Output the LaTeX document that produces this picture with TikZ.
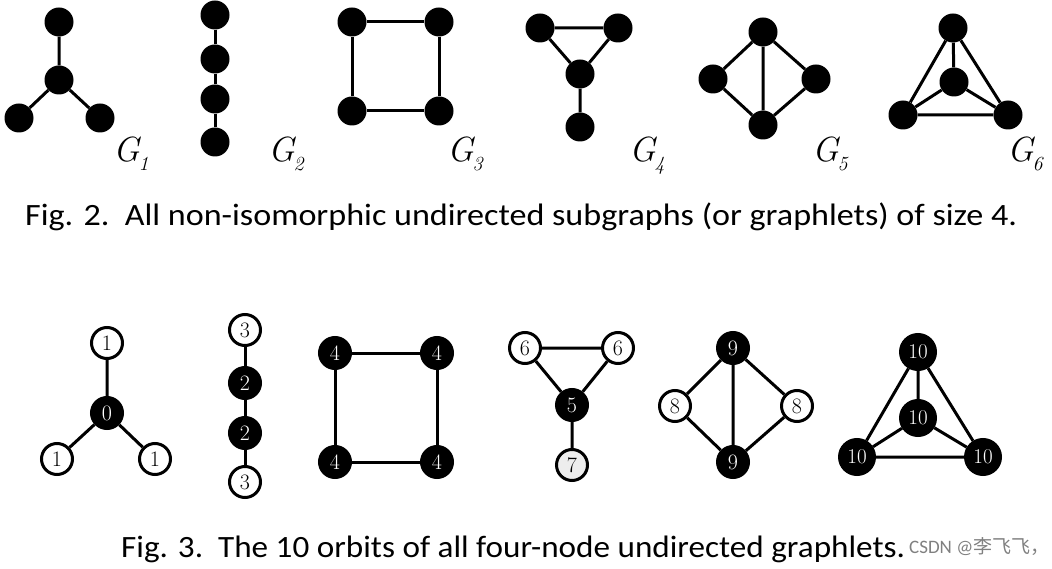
\documentclass[tikz,border=0pt]{standalone}
\usepackage{fontspec}
\newfontfamily\capfont[FakeStretch=1.1]{Carlito}
\newfontfamily\capfontb[FakeStretch=1.07]{Carlito}
\newfontfamily\wmfont{Carlito}
\newfontfamily\cjk{Noto Sans CJK SC}
\newcommand{\glab}[1]{{\itshape G\kern-1pt\raisebox{-9pt}{\fontsize{20}{20}\selectfont #1}}}
\begin{document}
\begin{tikzpicture}[x=1pt,y=-1pt,
  dot/.style={circle,fill=black,minimum size=29pt,inner sep=0pt},
  edge/.style={line width=3pt},
  orbw/.style={circle,draw=black,line width=3pt,fill=white,minimum size=31pt,inner sep=0pt,font=\fontsize{22}{22}\selectfont},
  orbb/.style={circle,draw=black,line width=3pt,fill=black,text=white,minimum size=31pt,inner sep=0pt,font=\fontsize{22}{22}\selectfont},
  orbbig/.style={orbb,minimum size=35pt,font=\fontsize{21}{21}\selectfont},
  glabel/.style={font=\fontsize{35}{36}\selectfont,anchor=base west,inner sep=0pt},
  caption/.style={font=\capfont\fontsize{31}{34}\selectfont,anchor=base west,inner sep=0pt}]
\useasboundingbox (0,0) rectangle (1052,569);
% ---- Fig 2 ----
% G1
\node[dot] (a1) at (59,22) {};
\node[dot] (a2) at (59,80) {};
\node[dot] (a3) at (19,118) {};
\node[dot] (a4) at (100,118) {};
\draw[edge] (a1) -- (a2) (a2) -- (a3) (a2) -- (a4);
\node[glabel] (g1) at (113,162) {\glab{1}};
% G2
\node[dot] (b1) at (215,15) {};
\node[dot] (b2) at (215,59) {};
\node[dot] (b3) at (215,99) {};
\node[dot] (b4) at (215,142) {};
\draw[edge] (b1) -- (b2) -- (b3) -- (b4);
\node[glabel] (g2) at (268,162) {\glab{2}};
% G3
\node[dot] (c1) at (352,22) {};
\node[dot] (c2) at (439,22) {};
\node[dot] (c3) at (439,111) {};
\node[dot] (c4) at (352,111) {};
\draw[edge] (c1) -- (c2) -- (c3) -- (c4) -- (c1);
\node[glabel] (g3) at (447,162) {\glab{3}};
% G4
\node[dot] (d1) at (540,28) {};
\node[dot] (d2) at (618,28) {};
\node[dot] (d3) at (580,74) {};
\node[dot] (d4) at (580,127) {};
\draw[edge] (d1) -- (d2) -- (d3) -- (d1) (d3) -- (d4);
\node[glabel] (g4) at (629,162) {\glab{4}};
% G5
\node[dot] (e1) at (763,32) {};
\node[dot] (e2) at (713,79) {};
\node[dot] (e3) at (816,79) {};
\node[dot] (e4) at (763,125) {};
\draw[edge] (e1) -- (e2) -- (e4) -- (e3) -- (e1) (e1) -- (e4);
\node[glabel] (g5) at (812,162) {\glab{5}};
% G6
\node[dot] (f1) at (953,28) {};
\node[dot] (f2) at (954,82) {};
\node[dot] (f3) at (903,115) {};
\node[dot] (f4) at (1008,115) {};
\draw[edge] (f1) -- (f3) -- (f4) -- (f1) (f1) -- (f2) (f2) -- (f3) (f2) -- (f4);
\node[glabel] (g6) at (1007,162) {\glab{6}};
\node[caption] (cap2) at (25,226) {Fig. 2.\ \ All non-isomorphic undirected subgraphs (or graphlets) of size 4.};
% ---- Fig 3 ----
% star
\node[orbw] (p1) at (107,343) {1};
\node[orbb] (p0) at (107,413) {0};
\node[orbw] (p2) at (57,459) {1};
\node[orbw] (p3) at (155,459) {1};
\draw[edge] (p1) -- (p0) (p0) -- (p2) (p0) -- (p3);
% path
\node[orbw] (q1) at (245,330) {3};
\node[orbb] (q2) at (245,383) {2};
\node[orbb] (q3) at (245,433) {2};
\node[orbw] (q4) at (245,482) {3};
\draw[edge] (q1) -- (q2) -- (q3) -- (q4);
% square
\node[orbb] (r1) at (335,353) {4};
\node[orbb] (r2) at (437,353) {4};
\node[orbb] (r3) at (437,462) {4};
\node[orbb] (r4) at (335,462) {4};
\draw[edge] (r1) -- (r2) -- (r3) -- (r4) -- (r1);
% paw
\node[orbw] (s1) at (525,348) {6};
\node[orbw] (s2) at (618,348) {6};
\node[orbb] (s3) at (572,405) {5};
\node[orbw,fill=black!7] (s4) at (572,465) {7};
\draw[edge] (s1) -- (s2) -- (s3) -- (s1) (s3) -- (s4);
% diamond
\node[orbb] (t1) at (733,348) {9};
\node[orbw] (t2) at (675,406) {8};
\node[orbw] (t3) at (797,406) {8};
\node[orbb] (t4) at (733,462) {9};
\draw[edge] (t1) -- (t2) -- (t4) -- (t3) -- (t1) (t1) -- (t4);
% K4
\node[orbbig] (u1) at (918,352) {10};
\node[orbbig] (u2) at (918,418) {10};
\node[orbbig] (u3) at (857,457) {10};
\node[orbbig] (u4) at (983,457) {10};
\draw[edge] (u1) -- (u3) -- (u4) -- (u1) (u1) -- (u2) (u2) -- (u3) (u2) -- (u4);
\node[caption,font=\capfontb\fontsize{31}{34}\selectfont] (cap3) at (121,557) {Fig. 3.\ \ The 10 orbits of all four-node undirected graphlets.};
\node[anchor=base west,text=black!50,font=\fontsize{19}{20}\selectfont,inner sep=0pt] (wm) at (909,553) {\wmfont CSDN @\cjk 李飞飞，};
\end{tikzpicture}
\end{document}
